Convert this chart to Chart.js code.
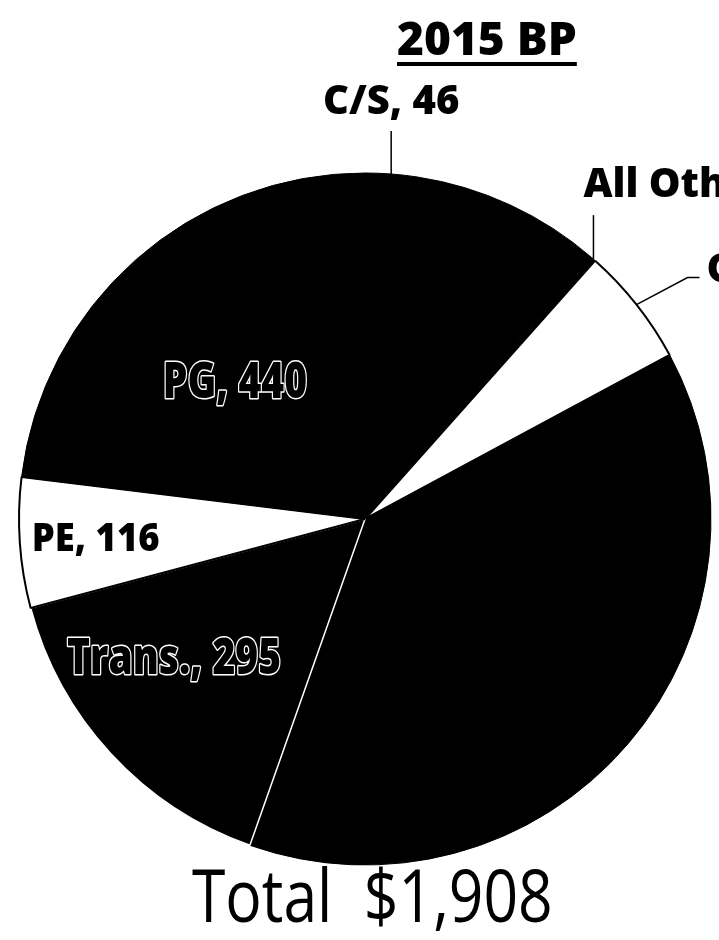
<!DOCTYPE html>
<html>
<head>
<meta charset="utf-8">
<script src="https://cdn.jsdelivr.net/npm/chart.js@4.4.1/dist/chart.umd.min.js"></script>
<style>
  html, body { margin: 0; padding: 0; background: #fff; }
  #wrap { position: relative; width: 719px; height: 940px; overflow: hidden; }
  #pie { position: absolute; left: 0; top: 0; }
  #title {
    position: absolute; left: 397px; top: 6px; white-space: pre;
    font: 800 46px 'Open Sans', sans-serif; line-height: normal; color: #000;
    text-decoration: underline; text-decoration-thickness: 4px; text-underline-offset: 7px;
    transform: scaleX(1.0); transform-origin: left top;
  }
  #total {
    position: absolute; left: 192px; top: 844px; white-space: pre;
    font: 500 73px 'Open Sans', sans-serif; line-height: normal; color: #000;
    transform: scaleX(0.83); transform-origin: left top;
  }
</style>
</head>
<body>
<div id="wrap">
  <canvas id="pie" width="719" height="940"></canvas>
  <div id="title">2015 BP</div>
  <div id="total">Total  $1,908</div>
</div>
<script>
// slices, clockwise from 12 o'clock
const sliceNames = ['C/S', 'Not shown (cut off)', 'All Other', 'G', 'Not shown (cut off)', 'Trans.', 'PE', 'PG'];
const sliceValues = [46, 171, 4, 106, 730, 295, 116, 440];

const sliceColors = ['#000', '#000', '#000', '#fff', '#000', '#000', '#fff', '#000'];
const sliceBorders = ['#000', '#000', '#000', '#000', '#000', '#fff', '#000', '#000'];
const sliceBorderW = [1, 1, 1, 2, 1, 1.5, 2, 1];

// how each visible label is placed
const labelStyle = {
  'PG': { kind: 'inside', frac: 0.55, dAngle: -1.6, font: '800 50px "Open Sans"', cap: 36, sx: 0.78, outline: true },
  'Trans.': { kind: 'inside', frac: 0.68, dAngle: 7, font: '800 50px "Open Sans"', cap: 36, sx: 0.78, outline: true },
  'PE': { kind: 'inside', frac: 0.78, dAngle: 0, font: '800 38px "Open Sans"', cap: 27, sx: 0.96 },
  'C/S': { kind: 'up', rise: 43, gap: 17, align: 'center', dx: 0 },
  'All Other': { kind: 'up', rise: 44, gap: 18, align: 'left', dx: -10 },
  'G': { kind: 'elbow' }
};

const sliceLabels = {
  id: 'sliceLabels',
  afterDatasetsDraw(chart) {
    const ctx = chart.ctx;
    const arcs = chart.getDatasetMeta(0).data;
    arcs.forEach((arc, i) => {
      const st = labelStyle[sliceNames[i]];
      if (!st) return;
      const p = arc.getProps(['x', 'y', 'startAngle', 'endAngle', 'outerRadius'], true);
      const mid = (p.startAngle + p.endAngle) / 2;
      const text = sliceNames[i] + ', ' + sliceValues[i];
      ctx.save();
      if (st.kind === 'inside') {
        const a = mid + st.dAngle * Math.PI / 180;
        const r = p.outerRadius * st.frac;
        const cx = p.x + Math.cos(a) * r;
        const cy = p.y + Math.sin(a) * r;
        ctx.font = st.font;
        ctx.textAlign = 'center';
        ctx.textBaseline = 'alphabetic';
        ctx.translate(cx, cy + st.cap / 2);
        ctx.scale(st.sx, 1);
        if (st.outline) {
          ctx.lineJoin = 'round';
          ctx.strokeStyle = '#fff';
          ctx.lineWidth = 3;
          ctx.strokeText(text, 0, 0);
        }
        ctx.fillStyle = '#000';
        ctx.fillText(text, 0, 0);
      } else {
        const ax = p.x + Math.cos(mid) * p.outerRadius;
        const ay = p.y + Math.sin(mid) * p.outerRadius;
        ctx.strokeStyle = '#000';
        ctx.lineWidth = 1.5;
        ctx.fillStyle = '#000';
        ctx.font = '800 40px "Open Sans"';
        ctx.textBaseline = 'alphabetic';
        ctx.beginPath();
        if (st.kind === 'up') {
          ctx.moveTo(ax, ay);
          ctx.lineTo(ax, ay - st.rise);
          ctx.stroke();
          ctx.textAlign = st.align;
          ctx.fillText(text, ax + st.dx, ay - st.rise - st.gap);
        } else {
          ctx.moveTo(ax, ay);
          ctx.lineTo(ax + 51, ay - 27);
          ctx.lineTo(ax + 63, ay - 27);
          ctx.stroke();
          ctx.textAlign = 'left';
          ctx.fillText(text, ax + 70, ay - 23);
        }
      }
      ctx.restore();
    });
  }
};

new Chart(document.getElementById('pie'), {
  type: 'pie',
  data: {
    labels: sliceNames,
    datasets: [{
      data: sliceValues,
      backgroundColor: sliceColors,
      borderColor: sliceBorders,
      borderWidth: sliceBorderW
    }]
  },
  options: {
    responsive: false,
    animation: false,
    rotation: 0,
    layout: { padding: { left: 18, right: 7, top: 172, bottom: 74 } },
    plugins: {
      legend: { display: false },
      tooltip: { enabled: false }
    }
  },
  plugins: [sliceLabels]
});
</script>
</body>
</html>
